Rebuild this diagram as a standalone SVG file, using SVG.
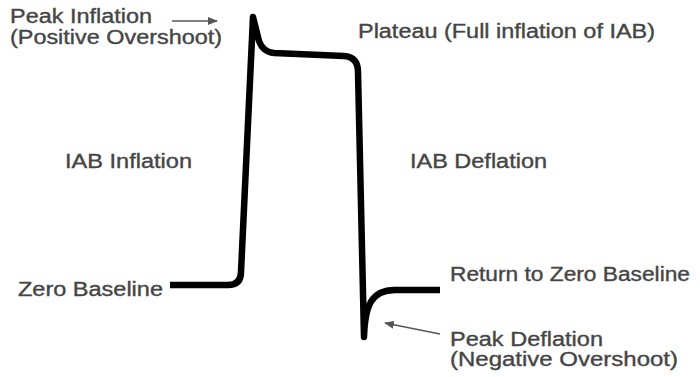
<svg xmlns="http://www.w3.org/2000/svg" width="700" height="377" viewBox="0 0 700 377">
<style>
.t{font-family:"Liberation Sans",Arial,sans-serif;font-size:19.5px;fill:#454545;stroke:#454545;stroke-width:0.35}
.wave{fill:none;stroke:#000;stroke-width:6.5;stroke-linejoin:round;stroke-linecap:butt}
.ptr{fill:none;stroke:#555;stroke-width:1.3}
</style>
<defs>
<marker id="ah" viewBox="0 0 10 8" refX="9" refY="4" markerWidth="10" markerHeight="8" markerUnits="userSpaceOnUse" orient="auto">
<path d="M0,0 L10,4 L0,8 Z" fill="#555"/>
</marker>
</defs>
<rect width="700" height="377" fill="#fff"/>
<g id="connectors">
<path id="waveform" class="wave" d="M170,285 L228,285 Q241,285 241,272 L253,17 L259,41 Q263,52 274,53 L344,56 Q358,57 358,72 L364,337 C365,306 371,290 395,290 L440,290"/>
<line class="ptr" x1="172" y1="21" x2="217" y2="21" marker-end="url(#ah)"/>
<line class="ptr" x1="440" y1="334" x2="385" y2="323" marker-end="url(#ah)"/>
</g>
<g id="peak-inflation"><text class="t" x="10" y="23" textLength="142" lengthAdjust="spacingAndGlyphs">Peak Inflation</text><text class="t" x="10" y="44" textLength="212" lengthAdjust="spacingAndGlyphs">(Positive Overshoot)</text></g>
<g id="plateau"><text class="t" x="358" y="38" textLength="297" lengthAdjust="spacingAndGlyphs">Plateau (Full inflation of IAB)</text></g>
<g id="iab-inflation"><text class="t" x="65" y="168" textLength="127" lengthAdjust="spacingAndGlyphs">IAB Inflation</text></g>
<g id="iab-deflation"><text class="t" x="410" y="168" textLength="137" lengthAdjust="spacingAndGlyphs">IAB Deflation</text></g>
<g id="zero-baseline"><text class="t" x="18" y="296" textLength="145" lengthAdjust="spacingAndGlyphs">Zero Baseline</text></g>
<g id="return-baseline"><text class="t" x="450" y="281" textLength="240" lengthAdjust="spacingAndGlyphs">Return to Zero Baseline</text></g>
<g id="peak-deflation"><text class="t" x="450" y="346" textLength="153" lengthAdjust="spacingAndGlyphs">Peak Deflation</text><text class="t" x="450" y="366" textLength="228" lengthAdjust="spacingAndGlyphs">(Negative Overshoot)</text></g>
</svg>
